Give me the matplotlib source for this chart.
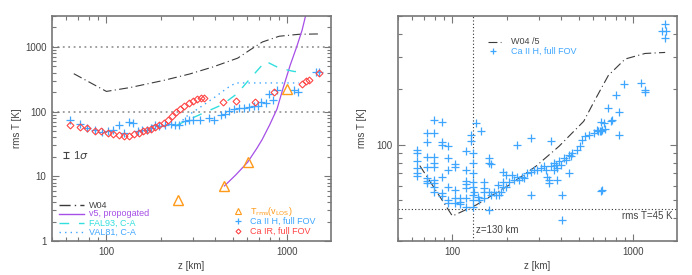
import numpy as np
import matplotlib
matplotlib.use("Agg")
import matplotlib.pyplot as plt
from matplotlib.ticker import NullFormatter, FuncFormatter

# ---------------- data ----------------
# W04 model (left panel as is, right panel divided by 5)
w04_z = [66, 100, 135, 206, 289, 389, 533, 617, 730, 904, 1165, 1505]
w04_t = [385, 205, 235, 302, 381, 490, 670, 880, 1190, 1460, 1565, 1585]

# v5, propagated
v5_z = [450, 520, 605, 680, 728, 800, 880, 950, 1040, 1130, 1210, 1265]
v5_t = [7.1, 10.5, 16.5, 27, 37, 62, 110, 230, 520, 1000, 1800, 3000]

# FAL93, C-A
fal_z = [240, 300, 362, 438, 530, 616, 760, 905, 1090, 1250]
fal_t = [60, 80, 101, 128, 190, 310, 600, 470, 417, 410]

# VAL81, C-A
val_z = [255, 270, 306, 347, 404, 466, 520, 1165]
val_t = [62, 80, 101, 128, 172, 231, 277, 277]

# T_rms(v_LOS)
trms_z = [250, 450, 605, 1005]
trms_t = [4.3, 7.1, 16.5, 224]

# Ca II H, full FOV (left panel)
cah_z = [63, 71, 78.5, 86, 94, 102, 109, 117.5, 125, 133.5, 141, 149.5, 158, 167,
         176, 185, 196, 210, 229, 240, 253, 271, 285, 300, 330, 371, 395, 431, 455,
         478, 510, 544, 580, 616, 655, 690, 715, 760, 795, 840, 884, 1090, 1150,
         1440, 1510]
cah_t = [73, 65, 55.5, 52, 48.7, 51, 51.6, 61, 46, 69.5, 65.5, 50, 52, 52.5,
         55, 61, 60, 62, 65, 63, 63, 71, 73, 75, 75, 80, 75, 89, 92,
         101, 111, 114, 114, 117, 121, 123, 140, 136, 187, 153, 218, 218, 198,
         408, 408]

# Ca IR, full FOV
cair_z = [63, 71, 78.5, 86, 93.4, 101.7, 108.4, 117, 125.7, 134, 142.8, 150.9, 158.8,
          167.8, 176.5, 186.5, 196.3, 207.4, 218.3, 230.6, 242.7, 256.4, 269.8, 285.1,
          300, 316.9, 333.4, 347.9, 444, 520, 663, 847, 1215, 1275, 1330, 1510]
cair_t = [61.5, 58.8, 55.5, 51, 49.8, 47, 44.3, 42.8, 41.8, 41.8, 44.3, 47, 49.8,
          51.6, 54.1, 58.1, 63.1, 67.1, 75.4, 84.8, 97.7, 110, 121, 136,
          144.2, 156.6, 162.2, 162.2, 139, 148, 139, 198, 267, 292, 310, 394]

# Ca II H, full FOV (right panel, individual points)
r_z = ([64.1] * 6 + [71.9] * 7 + [79.2] * 9 + [87.3] * 6 + [94.6] * 6 + [103] * 5
       + [109.7] * 3 + [118.4] * 7 +
       [126.7, 126.7, 143.9, 129.4, 129.4, 159.9, 159.9, 163.3, 129.4, 129.4, 150.1,
        150.1, 150.1, 129.4, 129.4, 129.4, 129.4, 140.9, 150.1, 159.9, 163.3, 170.4,
        174.0, 181.6, 185.5, 177.8, 189.4, 189.4, 189.4, 197.6, 206.1, 197.6, 215,
        219.6, 229.1, 233.9, 244.1, 249.3, 260.1, 271.3, 283.1, 295.3, 308, 321, 328,
        335, 342.3, 342.3, 349.6, 364.8, 372.6, 380.5, 388.6, 397, 414, 423, 441.1,
        450.8, 460.3, 490.3, 511.5, 522.4, 545, 568.6, 606, 632, 659, 673.5, 688,
        764.6, 364.8, 380.5, 441.1, 405.5, 271.3, 229.1, 271.3, 349.6, 832, 673.5,
        405.5, 159.9, 132.2, 137.9, 134.5] +
       [1504, 1442, 1517, 1504, 1109, 1158, 1167, 887, 804, 727, 839, 665, 758, 697,
        637, 665, 662])
r_t = ([93.9, 90.0, 81.1, 74.5, 70.0, 67.7] +
       [115.8, 103.4, 85.6, 75.5, 65.8, 63.9, 61.7] +
       [135.8, 115.8, 85.6, 79.4, 75.5, 64.4, 61.7, 58.7, 55.6] +
       [133.6, 103, 100, 67.1, 54.4, 52.6] +
       [98.7, 84.6, 73.0, 59.2, 50.1, 48.4] +
       [78.7, 75.5, 56.8, 51.1, 48.4] +
       [51.1, 49.0, 47.6] +
       [92.0, 73.0, 63.9, 61.2, 58.0, 51.1, 46.0] +
       [113.4, 104.3, 118.3, 90.0, 79.4, 84.6, 79.4, 78.7, 70.0, 63.1, 63.1,
        58.0, 55.6, 59.2, 53.3, 50.1, 46.0, 50.1, 51.1, 55.6, 53.3, 55.6,
        53.3, 53.3, 55.6, 60.4, 63.1, 59.2, 71.5, 68.6, 63.1, 59.2, 68.6,
        64.4, 67.1, 64.4, 67.1, 65.8, 70.0, 71.5, 73.0, 73.0, 74.6, 76.2, 73.0,
        67.1, 64.4, 61.7, 76.2, 79.4, 77.8, 74.6, 81.1, 77.8, 84.6, 82.8, 88.2,
        86.3, 90.0, 93.9, 97.9, 106.5, 111.1, 113.4, 115.8, 120.8, 118.3, 120.8, 131.3,
        137, 73.0, 64.4, 70.0, 53.3, 53.3, 100, 108.7, 104.3, 113.4, 56.8,
        38.9, 44.2, 55.6, 52.2, 131.3] +
       [450.8, 414.5, 414.5, 378, 217, 197, 193, 212.6, 187, 158.6, 150.2, 132.4, 135.2,
        121.8, 118.3, 118.3, 56.1])

# colours
C_W04 = '#3a3a3a'
C_V5 = '#a64ee6'
C_FAL = '#33dede'
C_VAL = '#3fa6ff'
C_TR = '#ff9a1a'
C_CAH = '#3fa6ff'
C_CAIR = '#ff4545'
C_AX = '#777777'
C_TXT = '#444444'
FS = 7      # ticks / axis labels
LFS = 6.5   # legend texts
DASHDOT = (0, (8, 3, 1, 3))

plt.rcParams['font.family'] = ['Liberation Sans', 'DejaVu Sans']
plt.rcParams['font.size'] = FS

fig = plt.figure(figsize=(6.92, 2.75), dpi=100)
ax1 = fig.add_axes([52 / 692, 1 - 241 / 275, 279 / 692, 225 / 275])
ax2 = fig.add_axes([398 / 692, 1 - 241 / 275, 279 / 692, 225 / 275])


def style_axis(ax, ypad):
    ax.set_xscale('log')
    ax.set_yscale('log')
    for sp in ax.spines.values():
        sp.set_color(C_AX)
        sp.set_linewidth(1.2)
    ax.tick_params(which='both', direction='in', top=True, right=True,
                   color=C_AX, labelcolor=C_TXT, labelsize=FS, width=0.8)
    ax.tick_params(which='major', length=5, pad=4)
    ax.tick_params(which='minor', length=3)
    fmt = FuncFormatter(lambda v, p: '%g' % v)
    ax.xaxis.set_major_formatter(fmt)
    ax.yaxis.set_major_formatter(fmt)
    ax.xaxis.set_minor_formatter(NullFormatter())
    ax.yaxis.set_minor_formatter(NullFormatter())
    ax.set_xlabel('z [km]', color=C_TXT, fontsize=FS, labelpad=3)
    ax.set_ylabel('rms T [K]', color=C_TXT, fontsize=FS, labelpad=ypad)


# ---------------- left panel ----------------
ax = ax1
style_axis(ax, 2)
ax.set_xlim(50, 1750)
ax.set_ylim(1, 3000)
for yv in [100, 1000]:
    ax.axhline(yv, color='#999999', ls=(0, (1, 2)), lw=1.3, zorder=1)

ax.plot(w04_z, w04_t, color=C_W04, lw=0.8, ls=DASHDOT)
ax.plot(v5_z, v5_t, color=C_V5, lw=0.9)
ax.plot(fal_z, fal_t, color=C_FAL, lw=1.0, ls=(0, (7, 7)))
ax.plot(val_z, val_t, color=C_VAL, lw=1.0, ls=(0, (1, 3)))
ax.plot(cah_z, cah_t, ls='none', marker='+', ms=6, mew=0.9, color=C_CAH)
ax.plot(cair_z, cair_t, ls='none', marker='D', ms=3.5, mew=0.8, mfc='none', mec=C_CAIR)
ax.plot(trms_z, trms_t, ls='none', marker='^', ms=7, mew=1.0, mfc='none', mec=C_TR)

# 1 sigma indicator
ax.errorbar([60], [21.5], yerr=[[2.3], [2.6]], color=C_TXT, lw=0.8, capsize=2, capthick=0.8)
ax.text(65, 21.5, r'1$\sigma$', color=C_TXT, fontsize=8, va='center', ha='left')

# legend (left block)
lx0, lx1, ltx = 0.025, 0.115, 0.133
rows = [(241 - 205) / 225, (241 - 214) / 225, (241 - 223) / 225, (241 - 232) / 225]
leg = [('W04', C_W04, DASHDOT, C_TXT),
       ('v5, propogated', C_V5, '-', C_V5),
       ('FAL93, C-A', C_FAL, (0, (7, 7)), C_FAL),
       ('VAL81, C-A', C_VAL, (0, (1, 3)), C_VAL)]
for (lab, c, ls, tc), yy in zip(leg, rows):
    ax.plot([lx0, lx1], [yy, yy], transform=ax.transAxes, color=c, ls=ls, lw=1.0)
    ax.text(ltx, yy, lab, transform=ax.transAxes, color=tc, fontsize=LFS, va='center')

# legend (right block)
mx, tx = (238 - 52) / 279, (250 - 52) / 279
rows2 = [(241 - 211) / 225, (241 - 221) / 225, (241 - 231) / 225]
ax.plot([mx], [rows2[0]], transform=ax.transAxes, marker='^', ms=4, mfc='none', mec=C_TR, mew=0.8)
ax.text(tx, rows2[0], r'T$_{\rm rms}$(v$_{\rm LOS}$)', transform=ax.transAxes, color=C_TR,
        fontsize=LFS, va='center')
ax.plot([mx], [rows2[1]], transform=ax.transAxes, marker='+', ms=4, mec=C_CAH, mew=0.9)
ax.text(tx, rows2[1], 'Ca II H, full FOV', transform=ax.transAxes, color=C_CAH, fontsize=LFS, va='center')
ax.plot([mx], [rows2[2]], transform=ax.transAxes, marker='D', ms=2.5, mfc='none', mec=C_CAIR, mew=0.8)
ax.text(tx, rows2[2], 'Ca IR, full FOV', transform=ax.transAxes, color=C_CAIR, fontsize=LFS, va='center')

# ---------------- right panel ----------------
ax = ax2
style_axis(ax, 7)
ax.set_xlim(50, 1750)
ax.set_ylim(30, 500)
ax.axvline(130, color='#333333', ls=(0, (1, 2)), lw=0.8)
ax.axhline(45, color='#333333', ls=(0, (1, 2)), lw=0.8)
ax.plot(w04_z, np.array(w04_t) / 5.0, color=C_W04, lw=0.8, ls=DASHDOT)
ax.plot(r_z, r_t, ls='none', marker='+', ms=6, mew=0.9, color=C_CAH)
ax.text(135, 34.5, 'z=130 km', color=C_TXT, fontsize=FS, va='center', ha='left')
ax.text(0.985, (241 - 216) / 225, 'rms T=45 K', transform=ax.transAxes, color=C_TXT,
        fontsize=FS, va='center', ha='right')

yy = (241 - 41.7) / 225
ax.plot([(487.7 - 398) / 279, (501 - 398) / 279], [yy, yy], transform=ax.transAxes,
        color=C_W04, lw=0.8, ls=DASHDOT)
ax.text((511 - 398) / 279, yy, 'W04 /5', transform=ax.transAxes, color=C_TXT, fontsize=LFS, va='center')
yy = (241 - 51) / 225
ax.plot([(492.7 - 398) / 279], [yy], transform=ax.transAxes, marker='+', ms=4, mec=C_CAH, mew=0.9)
ax.text((511 - 398) / 279, yy, 'Ca II H, full FOV', transform=ax.transAxes, color=C_CAH,
        fontsize=LFS, va='center')

fig.savefig('out.png', dpi=100)
